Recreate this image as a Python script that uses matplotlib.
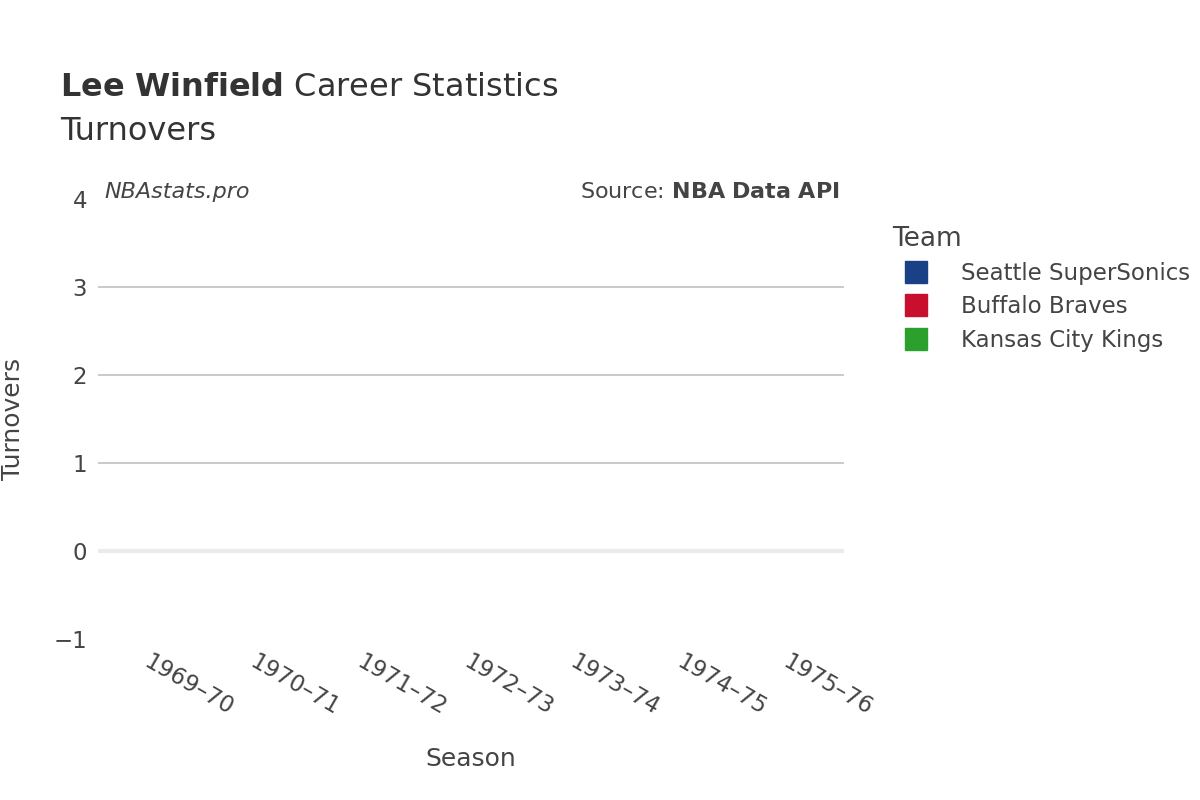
import matplotlib
matplotlib.use("Agg")
import matplotlib.pyplot as plt
from matplotlib.lines import Line2D

seasons = ["1969–70", "1970–71", "1971–72", "1972–73", "1973–74", "1974–75", "1975–76"]
teams = ["Seattle SuperSonics", "Buffalo Braves", "Kansas City Kings"]
team_colors = ["#1a4185", "#c8102e", "#2ca02c"]
# No turnover values recorded for any season
turnovers = {t: ([], []) for t in teams}
yticks = [-1, 0, 1, 2, 3, 4]

plt.rcParams["font.family"] = "DejaVu Sans"
fig = plt.figure(figsize=(12, 8), dpi=100)
ax = fig.add_axes([98/1200, 161/800, 746/1200, 440/800])
for t, c in zip(teams, team_colors):
    xs, ys = turnovers[t]
    ax.plot(xs, ys, color=c)
ax.set_xlim(-0.5, len(seasons) - 0.5)
ax.set_ylim(-1, 4)
ax.set_xticks(range(len(seasons)))
ax.set_xticklabels(seasons, rotation=-30, ha="left", va="top", rotation_mode="anchor",
                   fontsize=16.5, color="#444")
ax.set_yticks(yticks)
ax.set_yticklabels(["−1", "0", "1", "2", "3", "4"], fontsize=16.5, color="#444")
ax.tick_params(length=0, pad=8)
for s in ax.spines.values():
    s.set_visible(False)
for y in [1, 2, 3]:
    ax.axhline(y, color="#c0c0c0", lw=1.2, zorder=0)
ax.axhline(0, color="#ebebeb", lw=3, zorder=0)
ax.set_xlabel("Season", fontsize=18, color="#444", labelpad=20)
ax.set_ylabel("Turnovers", fontsize=18, color="#444", labelpad=20)

fig.text(60/1200, 1 - 88/800, "$\\bf{Lee\\ Winfield}$ Career Statistics", fontsize=23, color="#333", va="center")
fig.text(60/1200, 1 - 132/800, "Turnovers", fontsize=23, color="#333", va="center")
fig.text(104/1200, 1 - 192/800, "NBAstats.pro", fontsize=16, style="italic", color="#444", va="center")
fig.text(840/1200, 1 - 192/800, "Source: $\\bf{NBA\\ Data\\ API}$", fontsize=16, color="#444", va="center", ha="right")

handles = [Line2D([], [], marker="s", ls="", markersize=16, color=c) for c in team_colors]
leg = fig.legend(handles, teams, loc="upper left", bbox_to_anchor=(872/1200, 1 - 205/800),
                 frameon=False, title="Team", fontsize=16.5, title_fontsize=19,
                 labelcolor="#444", handletextpad=1.0, labelspacing=0.45, alignment="left")
leg.get_title().set_color("#444")
fig.savefig("out.png")
